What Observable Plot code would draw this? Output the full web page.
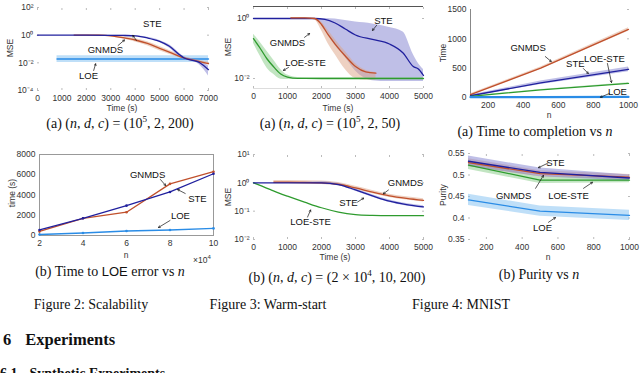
<!DOCTYPE html>
<html><head><meta charset="utf-8">
<script src="https://cdn.jsdelivr.net/npm/d3@7"></script>
<script src="https://cdn.jsdelivr.net/npm/@observablehq/plot@0.6"></script>
<style>
html,body{margin:0;padding:0;background:#fff;width:640px;height:373px;overflow:hidden;position:relative;}
.p{position:absolute;}
.cap{position:absolute;font-family:"Liberation Serif","Times New Roman",serif;font-size:14px;line-height:14px;text-align:center;white-space:nowrap;color:#111;}
.cap sup{font-size:9px;line-height:0;}
.sans{font-family:"Liberation Sans",Arial,sans-serif;font-size:13px;}
.head{position:absolute;font-family:"Liberation Serif","Times New Roman",serif;font-weight:bold;white-space:nowrap;color:#111;}
.small{position:absolute;font-family:"Liberation Sans",Arial,sans-serif;font-size:8.5px;line-height:10px;color:#333;white-space:nowrap;}
</style></head><body>
<script>
// ---------- colours
const C = {STE:"#20209e", GNMDS:"#c0502c", LOE:"#2a8ce6", LOESTE:"#2e9b2e"};
const B = {STE:"#7f7fd0", GNMDS:"#dea486", LOE:"#7fc0f2", LOESTE:"#86cc86"};

// ---------- Panel 1: MSE vs time, (n,d,c)=(1e5,2,200)
const p1_t_ste  = [0,1000,2000,3000,3500,4000,4500,5000,5400,5800,6000,6300,6600,6800,7000];
const p1_ste    = [1,1,1,0.977,0.955,0.891,0.631,0.355,0.158,0.040,0.0224,0.0158,0.0112,0.0063,0.0032];
const p1_ste_lo = [1,1,1,0.95,0.92,0.85,0.57,0.30,0.12,0.030,0.018,0.013,0.008,0.0035,0.0011];
const p1_ste_hi = [1,1,1,1,0.99,0.93,0.70,0.42,0.20,0.052,0.028,0.020,0.014,0.010,0.006];
const p1_t_gn   = [1500,2000,2500,3000,3500,4000,4500,5000,5500,6000,6500,7000];
const p1_gn     = [1.02,1.02,1,0.891,0.661,0.447,0.251,0.112,0.050,0.0224,0.0141,0.0089];
const p1_gn_lo  = [1,1,0.95,0.78,0.52,0.32,0.17,0.075,0.035,0.018,0.011,0.007];
const p1_gn_hi  = [1.04,1.04,1.02,0.95,0.76,0.55,0.33,0.15,0.065,0.028,0.017,0.011];
const p1_t_loe  = [800,7000];
const p1_loe    = [0.019,0.019];
const p1_loe_lo = [0.0105,0.0105];
const p1_loe_hi = [0.032,0.032];

// ---------- Panel 2: warm start (n,d,c)=(1e5,2,50)
const p2_t_ste  = [0,1000,1800,2100,2400,2700,3000,3500,4000,4400,4700,4850,5000];
const p2_ste    = [1,1,1,0.933,0.708,0.447,0.282,0.2,0.141,0.0708,0.0251,0.0209,0.0126];
const p2_ste_hi = [1,1,1,1,0.955,0.851,0.759,0.661,0.501,0.355,0.063,0.0316,0.02];
const p2_ste_lo = [1,1,1,0.398,0.126,0.05,0.0178,0.0085,0.0079,0.0079,0.0079,0.0079,0.0079];
const p2_t_gn   = [1100,1500,1800,2000,2200,2400,2700,3000,3300,3600];
const p2_gn     = [1.05,1.05,1,0.631,0.282,0.141,0.0562,0.0251,0.0166,0.0151];
const p2_gn_hi  = [1.07,1.07,1.02,0.759,0.398,0.2,0.0794,0.0316,0.019,0.0158];
const p2_gn_lo  = [1.02,1,0.891,0.398,0.141,0.063,0.02,0.01,0.0089,0.0089];
const p2_t_ls   = [0,200,400,600,800,1000,1300,2000,3000,4000,5000];
const p2_ls     = [0.214,0.1,0.0447,0.024,0.0141,0.0112,0.0101,0.01,0.01,0.01,0.01];
const p2_ls_hi  = [0.30,0.16,0.08,0.04,0.02,0.013,0.0108,0.0106,0.0106,0.0106,0.0106];
const p2_ls_lo  = [0.15,0.055,0.022,0.0135,0.0095,0.0093,0.0094,0.0094,0.0094,0.0094,0.0094];

// ---------- Panel 3: MNIST time to completion vs n
const p3_n      = [100,500,1000];
const p3_gn     = [50,500,1160];
const p3_ste    = [30,250,480];
const p3_ls     = [20,130,240];
const p3_loe    = [5,7,10];
const p3_gn_w   = [15,20,30];
const p3_ste_w  = [12,30,40];
const p3_ls_w   = [5,8,10];

// ---------- Panel 4: time to LOE error vs n (x 1e4)
const p4_n      = [2,4,6,8,10];
const p4_gn     = [400,1700,2300,5100,6300];
const p4_ste    = [550,1700,2950,4300,6100];
const p4_loe    = [100,250,450,550,700];

// ---------- Panel 5: warm start (n,d,c)=(2e4,10,200)
const p5_t_ste  = [0,1000,2000,2500,3000,3500,4000,4500,5000];
const p5_ste    = [1,1,1,0.871,0.562,0.347,0.224,0.17,0.141];
const p5_t_gn   = [600,1000,2000,2500,3000,3500,4000,4500,5000];
const p5_gn     = [1.05,1.05,1,0.891,0.661,0.468,0.347,0.282,0.24];
const p5_t_ls   = [0,250,500,750,1000,1500,2000,2500,3000,3500,4000,5000];
const p5_ls     = [1,0.759,0.575,0.437,0.339,0.209,0.132,0.0933,0.0759,0.0708,0.0692,0.0692];

// ---------- Panel 6: MNIST purity vs n
const p6_n      = [100,500,1000];
const p6_ste    = [0.532,0.506,0.493];
const p6_gn     = [0.529,0.503,0.495];
const p6_ls     = [0.523,0.488,0.488];
const p6_loe    = [0.442,0.416,0.406];
const p6_ste_w  = [0.012,0.010,0.007];
const p6_gn_w   = [0.009,0.007,0.006];
const p6_ls_w   = [0.010,0.008,0.006];
const p6_loe_w  = [0.013,0.012,0.012];

// ---------- annotation labels [x, y, text], arrows [x1,y1,x2,y2]
const a1_text = [[4700,6.7,"STE"],[2780,0.08,"GNMDS"],[2090,0.0011,"LOE"]];
const a1_arr  = [[4050,0.42,3900,0.96],[3300,0.18,3560,0.45],[2300,0.0028,2380,0.0085]];
const a2_text = [[3820,0.85,"STE"],[1000,0.148,"GNMDS"],[1530,0.034,"LOE-STE"]];
const a2_arr  = [[3620,0.59,3500,0.40],[1500,0.235,1650,0.316],[1030,0.0234,880,0.0186]];
const a3_text = [[428,852,"GNMDS"],[697,580,"STE"],[863,664,"LOE-STE"],[937,102,"LOE"]];
const a3_arr  = [[526,698,560,613],[743,494,771,409],[880,579,903,256],[891,68,840,4]];
const a4_text = [[6.97,6020,"GNMDS"],[9.26,3650,"STE"],[8.48,1975,"LOE"]];
const a4_arr  = [[7.56,5530,7.8,4935],[8.7,4150,8.35,4540],[8.0,1480,7.47,790]];
const a5_text = [[4470,1.0,"GNMDS"],[2790,0.195,"STE"],[1680,0.041,"LOE-STE"]];
const a5_arr  = [[3970,0.56,3820,0.41],[3060,0.21,3240,0.29],[1590,0.062,1680,0.11]];
const a6_text = [[586,0.527,"STE"],[352,0.452,"GNMDS"],[659,0.452,"LOE-STE"],[514,0.376,"LOE"]];
const a6_arr  = [[541,0.527,491,0.517],[475,0.469,519,0.499],[743,0.469,793,0.483],[547,0.39,586,0.401]];

// ---------- helpers
const zipS = (xs, ys, lo, hi) => xs.map((x,i)=>({x, y:ys[i], lo: lo?lo[i]:null, hi: hi?hi[i]:null}));
const zipW = (xs, ys, w) => xs.map((x,i)=>({x, y:ys[i], lo:ys[i]-w[i], hi:ys[i]+w[i]}));
const sup = {"-":"\u207B","0":"\u2070","1":"\u00B9","2":"\u00B2","3":"\u00B3","4":"\u2074","5":"\u2075"};
const powFmt = d => "10" + String(Math.round(Math.log10(d))).split("").map(c=>sup[c]).join("");
const band = (data, color) => Plot.areaY(data, {x:"x", y1:"lo", y2:"hi", fill:color, fillOpacity:0.5, curve:"monotone-x"});
const line = (data, color, w=1.3) => Plot.lineY(data, {x:"x", y:"y", stroke:color, strokeWidth:w, curve:"monotone-x"});
const linL = (data, color, w=1.3) => Plot.lineY(data, {x:"x", y:"y", stroke:color, strokeWidth:w});
const bandL = (data, color) => Plot.areaY(data, {x:"x", y1:"lo", y2:"hi", fill:color, fillOpacity:0.5});
const labels = t => Plot.text(t, {x:d=>d[0], y:d=>d[1], text:d=>d[2], fontSize:9.5, fill:"#111", fontFamily:"Liberation Sans, Arial, sans-serif"});
const arrows = a => Plot.arrow(a, {x1:d=>d[0], y1:d=>d[1], x2:d=>d[2], y2:d=>d[3], stroke:"#111", strokeWidth:0.7, headLength:4});
const baseStyle = {fontFamily:"Liberation Sans, Arial, sans-serif", fontSize:"8.5px", color:"#333", background:"transparent", overflow:"visible"};
const str = d => String(d);
const blank = () => "";

function place(left, top, plot) {
  const d = document.createElement("div");
  d.className = "p"; d.style.left = left+"px"; d.style.top = top+"px";
  d.appendChild(plot); document.body.appendChild(d);
}
function axes(xTicks, yTicks, yFmt, inward=true) {
  const m = [
    Plot.axisX({ticks:xTicks, tickSize:0, tickPadding:4, label:null, tickFormat:str}),
    Plot.axisY({ticks:yTicks, tickSize:0, tickPadding:4, label:null, tickFormat:yFmt})
  ];
  if (inward) m.push(
    Plot.axisX({ticks:xTicks, tickSize:-2, anchor:"bottom", tickFormat:blank, label:null, stroke:"#bbb"}),
    Plot.axisX({ticks:xTicks, tickSize:-2, anchor:"top", tickFormat:blank, label:null, stroke:"#bbb"}),
    Plot.axisY({ticks:yTicks, tickSize:-2, anchor:"left", tickFormat:blank, label:null, stroke:"#bbb"}),
    Plot.axisY({ticks:yTicks, tickSize:-2, anchor:"right", tickFormat:blank, label:null, stroke:"#bbb"})
  );
  return m;
}

// Panel 1
{
  const ste = zipS(p1_t_ste, p1_ste, p1_ste_lo, p1_ste_hi);
  const gn = zipS(p1_t_gn, p1_gn, p1_gn_lo, p1_gn_hi);
  const loe = zipS(p1_t_loe, p1_loe, p1_loe_lo, p1_loe_hi);
  place(0, 0, Plot.plot({
    width:220, height:115, marginLeft:37, marginRight:12, marginTop:7, marginBottom:25,
    style: baseStyle,
    x:{domain:[0,7000], label:null}, y:{type:"log", domain:[1e-4,1e2], label:null},
    marks:[
      ...axes([0,1000,2000,3000,4000,5000,6000,7000], [1e-4,1e-2,1,1e2], powFmt),
      bandL(loe, B.LOE), linL(loe, C.LOE, 1.4),
      band(gn, B.GNMDS), band(ste, B.STE),
      line(gn, C.GNMDS), line(ste, C.STE),
      arrows(a1_arr), labels(a1_text)
    ]
  }));
}
// Panel 2
{
  const ste = zipS(p2_t_ste, p2_ste, p2_ste_lo, p2_ste_hi);
  const gn = zipS(p2_t_gn, p2_gn, p2_gn_lo, p2_gn_hi);
  const ls = zipS(p2_t_ls, p2_ls, p2_ls_lo, p2_ls_hi);
  const top = Math.pow(10,0.4), bot = Math.pow(10,-2.333);
  place(215, 0, Plot.plot({
    width:215, height:115, marginLeft:38, marginRight:7, marginTop:6, marginBottom:27,
    style: baseStyle,
    x:{domain:[0,5000], label:null}, y:{type:"log", domain:[bot, top], label:null},
    marks:[
      ...axes([0,1000,2000,3000,4000,5000], [1e-2,1], powFmt),
      Plot.ruleY([top], {stroke:"#555", strokeWidth:1}),
      Plot.ruleY([bot], {stroke:"#ddd", strokeWidth:1}),
      band(ste, B.STE), band(gn, B.GNMDS), band(ls, B.LOESTE),
      line(ste, C.STE), line(gn, C.GNMDS), line(ls, C.LOESTE),
      arrows(a2_arr), labels(a2_text)
    ]
  }));
}
// Panel 3
{
  const gn = zipW(p3_n, p3_gn, p3_gn_w), ste = zipW(p3_n, p3_ste, p3_ste_w), ls = zipW(p3_n, p3_ls, p3_ls_w);
  const loe = zipW(p3_n, p3_loe, [3,3,3]);
  place(430, 0, Plot.plot({
    width:210, height:120, marginLeft:40, marginRight:12, marginTop:9, marginBottom:23,
    style: baseStyle,
    x:{domain:[100,1000], label:null}, y:{domain:[0,1500], label:null},
    marks:[
      Plot.axisX({ticks:[200,400,600,800,1000], tickSize:0, tickPadding:4, label:null, tickFormat:str}),
      Plot.axisY({ticks:[0,500,1000,1500], tickSize:0, tickPadding:4, label:null, tickFormat:str}),
      Plot.axisY({ticks:[0,500,1000,1500], tickSize:-2, anchor:"right", tickFormat:blank, label:null, stroke:"#bbb"}),
      Plot.ruleX([100], {stroke:"#888"}), Plot.ruleY([0], {stroke:"#888"}),
      bandL(gn, B.GNMDS), bandL(ste, B.STE), bandL(ls, B.LOESTE),
      linL(gn, C.GNMDS), linL(ste, C.STE), linL(ls, C.LOESTE), linL(loe, C.LOE, 2.2),
      arrows(a3_arr), labels(a3_text)
    ]
  }));
}
// Panel 4
{
  const gn = zipS(p4_n, p4_gn), ste = zipS(p4_n, p4_ste), loe = zipS(p4_n, p4_loe);
  place(0, 145, Plot.plot({
    width:220, height:115, marginLeft:39, marginRight:7, marginTop:9, marginBottom:25,
    style: baseStyle,
    x:{domain:[2,10], label:null}, y:{domain:[0,8000], label:null},
    marks:[
      Plot.frame({stroke:"#999"}),
      Plot.axisX({ticks:[2,4,6,8,10], tickSize:0, tickPadding:4, label:null, tickFormat:str}),
      Plot.axisY({ticks:[0,2000,4000,6000,8000], tickSize:0, tickPadding:4, label:null, tickFormat:str}),
      linL(loe, C.LOE, 1.4), Plot.dot(loe, {x:"x", y:"y", r:1.3, fill:C.LOE}),
      linL(gn, C.GNMDS, 1.3), Plot.dot(gn, {x:"x", y:"y", r:1.3, fill:C.GNMDS}),
      linL(ste, C.STE, 1.3), Plot.dot(ste, {x:"x", y:"y", r:1.3, fill:C.STE}),
      arrows(a4_arr), labels(a4_text)
    ]
  }));
}
// Panel 5
{
  const ste = p5_t_ste.map((x,i)=>({x, y:p5_ste[i], lo:p5_ste[i]*(i<2?1:0.9), hi:p5_ste[i]*(i<2?1:1.1)}));
  const gn = p5_t_gn.map((x,i)=>({x, y:p5_gn[i], lo:p5_gn[i]*0.88, hi:p5_gn[i]*1.15}));
  const ls = zipS(p5_t_ls, p5_ls);
  place(215, 145, Plot.plot({
    width:215, height:120, marginLeft:38, marginRight:7, marginTop:9, marginBottom:26,
    style: baseStyle,
    x:{domain:[0,5000], label:null}, y:{type:"log", domain:[1e-2,1e1], label:null},
    marks:[
      ...axes([0,1000,2000,3000,4000,5000], [1e-2,1e-1,1,1e1], powFmt),
      band(gn, B.GNMDS), band(ste, B.STE),
      line(ls, C.LOESTE), line(gn, C.GNMDS), line(ste, C.STE),
      arrows(a5_arr), labels(a5_text)
    ]
  }));
}
// Panel 6
{
  const ste = zipW(p6_n, p6_ste, p6_ste_w), gn = zipW(p6_n, p6_gn, p6_gn_w), ls = zipW(p6_n, p6_ls, p6_ls_w), loe = zipW(p6_n, p6_loe, p6_loe_w);
  place(430, 145, Plot.plot({
    width:210, height:120, marginLeft:38, marginRight:11, marginTop:8, marginBottom:26,
    style: baseStyle,
    x:{domain:[100,1000], label:null}, y:{domain:[0.35,0.55], label:null},
    marks:[
      ...axes([200,400,600,800,1000], [0.35,0.4,0.45,0.5,0.55], d=>String(+d.toFixed(2))),
      bandL(loe, B.LOE), bandL(ls, B.LOESTE), bandL(gn, B.GNMDS), bandL(ste, B.STE),
      linL(loe, C.LOE), linL(ls, C.LOESTE), linL(gn, C.GNMDS), linL(ste, C.STE),
      arrows(a6_arr), labels(a6_text)
    ]
  }));
}

// ---------- text
function cap(html, cx, top, cls="cap") {
  const d = document.createElement("div");
  d.className = cls; d.innerHTML = html;
  d.style.left = (cx-160)+"px"; d.style.width = "320px"; d.style.top = top+"px";
  document.body.appendChild(d);
}
function lab(text, cx, cy, rot) {
  const d = document.createElement("div");
  d.className = "small"; d.textContent = text;
  d.style.left = (cx-40)+"px"; d.style.width = "80px"; d.style.textAlign = "center";
  d.style.top = (cy-5)+"px";
  if (rot) d.style.transform = "rotate(-90deg)";
  document.body.appendChild(d);
}
// axis titles
lab("Time (s)", 122, 108); lab("MSE", 10, 48, true);
lab("Time (s)", 338, 108); lab("MSE", 228, 47, true);
lab("n", 549, 115);        lab("Time", 443, 53, true);
lab("n", 126, 255);        lab("time (s)", 12, 193, true);
lab("Time (s)", 335, 257); lab("MSE", 228, 197, true);
lab("n", 548, 257);        lab("Purity", 443, 195, true);

cap("(a) (<i>n</i>, <i>d</i>, <i>c</i>) = (10<sup>5</sup>, 2, 200)", 120, 117);
cap("(a) (<i>n</i>, <i>d</i>, <i>c</i>) = (10<sup>5</sup>, 2, 50)", 330, 117);
cap("(a) Time to completion vs <i>n</i>", 535, 125);
cap("(b) Time to <span class='sans'>LOE</span> error vs <i>n</i>", 110, 265);
cap("(b) (<i>n</i>, <i>d</i>, <i>c</i>) = (2 × 10<sup>4</sup>, 10, 200)", 337, 271);
cap("(b) Purity vs <i>n</i>", 539, 268);
cap("Figure 2: Scalability", 91, 298);
cap("Figure 3: Warm-start", 268, 298);
cap("Figure 4: MNIST", 461, 298);

const x4 = document.createElement("div");
x4.className = "small"; x4.innerHTML = "×10<sup style='font-size:6px'>4</sup>";
x4.style.left = "193px"; x4.style.top = "252px";
document.body.appendChild(x4);

const h1 = document.createElement("div");
h1.className = "head"; h1.style.fontSize = "16.5px"; h1.style.lineHeight = "16.5px";
h1.style.left = "3px"; h1.style.top = "332px";
h1.innerHTML = "6<span style='display:inline-block;width:14px'></span>Experiments";
document.body.appendChild(h1);
const h2 = document.createElement("div");
h2.className = "head"; h2.style.fontSize = "14px"; h2.style.lineHeight = "14px";
h2.style.left = "0px"; h2.style.top = "367px";
h2.innerHTML = "6.1<span style='display:inline-block;width:12px'></span>Synthetic Experiments";
document.body.appendChild(h2);
</script>
</body></html>
